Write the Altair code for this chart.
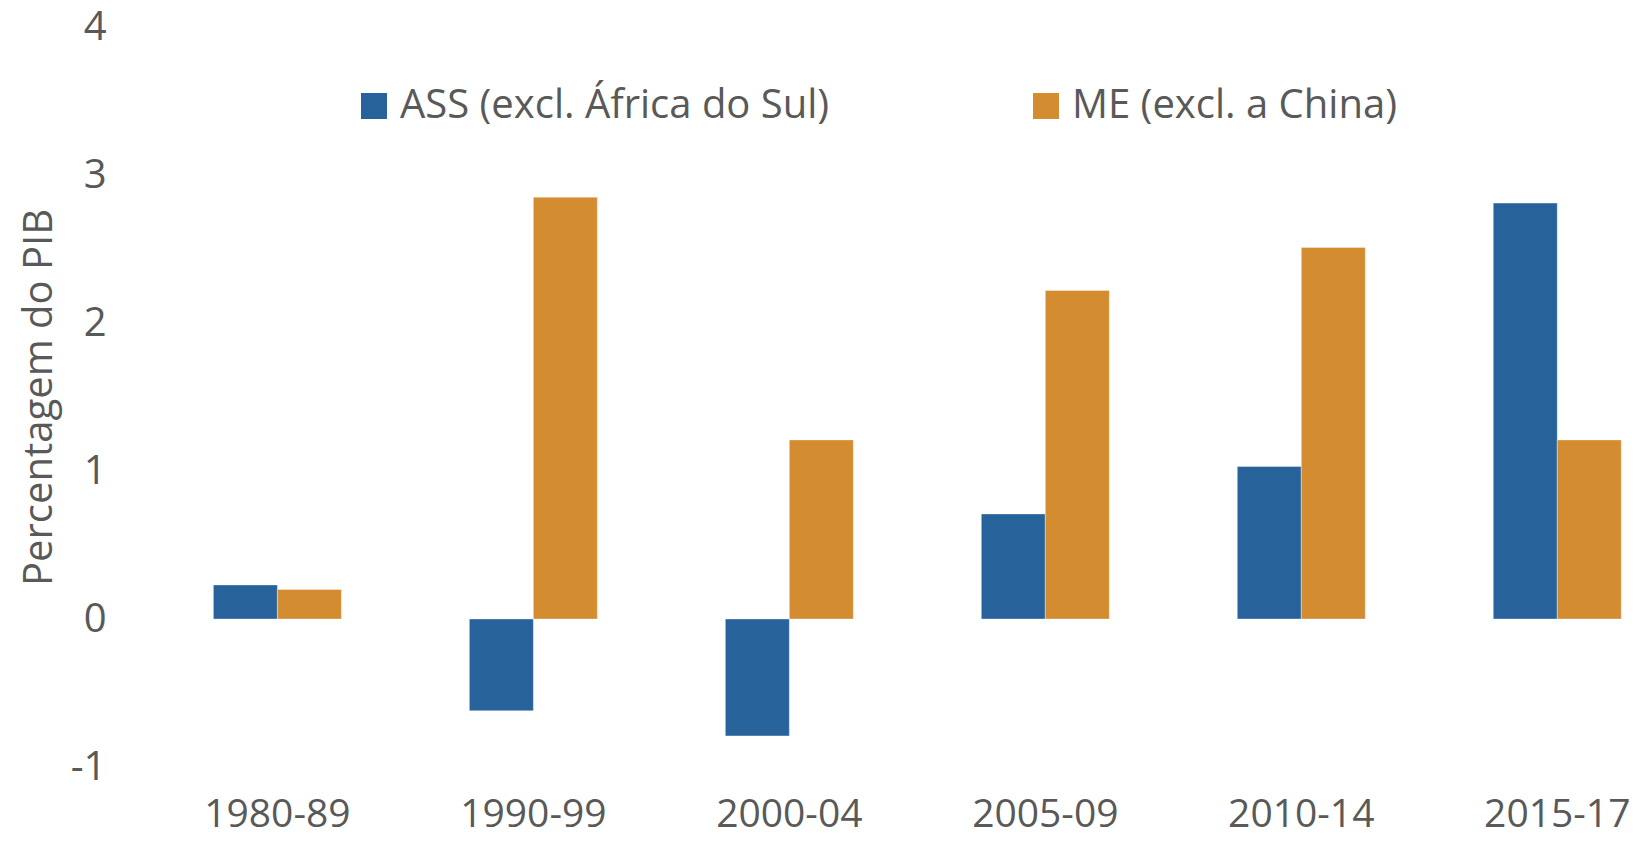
import altair as alt
import pandas as pd

periods = ["1980-89", "1990-99", "2000-04", "2005-09", "2010-14", "2015-17"]
series_names = ["ASS (excl. África do Sul)", "ME (excl. a China)"]
ass_values = [0.23, -0.62, -0.79, 0.71, 1.03, 2.81]
me_values = [0.20, 2.85, 1.21, 2.22, 2.51, 1.21]
y_ticks = [-1, 0, 1, 2, 3, 4]
colors = ["#27639A", "#D48C31"]

rows = []
for p, a, m in zip(periods, ass_values, me_values):
    rows.append({"period": p, "series": series_names[0], "value": a})
    rows.append({"period": p, "series": series_names[1], "value": m})
df = pd.DataFrame(rows)

FONT = "Open Sans"
GREY = "#595959"

chart = (
    alt.Chart(df)
    .mark_bar(stroke="#ffffff", strokeWidth=0.6, strokeOpacity=0.6)
    .encode(
        x=alt.X(
            "period:N",
            sort=periods,
            title=None,
            scale=alt.Scale(paddingInner=0.5, paddingOuter=0.18, align=0.905),
            axis=alt.Axis(
                labelAngle=0,
                domain=False,
                ticks=False,
                labelPadding=28,
                labelFontSize=39,
                labelColor=GREY,
                labelFont=FONT,
            ),
        ),
        xOffset=alt.XOffset("series:N", sort=series_names),
        y=alt.Y(
            "value:Q",
            scale=alt.Scale(domain=[-1, 4], nice=False),
            title="Percentagem do PIB",
            axis=alt.Axis(
                values=y_ticks,
                labelExpr="'' + datum.value",
                grid=False,
                domain=False,
                ticks=False,
                tickSize=0,
                labelPadding=24,
                labelFontSize=40,
                labelColor=GREY,
                labelFont=FONT,
                titleFontSize=40,
                titleFontWeight="normal",
                titleColor=GREY,
                titleFont=FONT,
                titleX=-91,
                titleY=370,
                titleAngle=270,
                titleBaseline="middle",
                titleAlign="center",
            ),
        ),
        color=alt.Color(
            "series:N",
            sort=series_names,
            scale=alt.Scale(domain=series_names, range=colors),
            legend=alt.Legend(
                title=None,
                orient="none",
                direction="horizontal",
                legendX=224,
                legendY=59,
                symbolType="square",
                symbolSize=676,
                symbolStrokeWidth=0,
                labelFontSize=40,
                labelColor=GREY,
                labelFont=FONT,
                labelOffset=6,
                labelLimit=0,
                columnPadding=196,
            ),
        ),
    )
    .properties(
        width=1500,
        height=740,
        autosize=alt.AutoSizeParams(type="none"),
        padding={"left": 122, "top": 19, "right": 2, "bottom": 74},
    )
    .configure_view(stroke=None)
)

chart.save("out.html", embed_options={"renderer": "svg", "actions": False})
